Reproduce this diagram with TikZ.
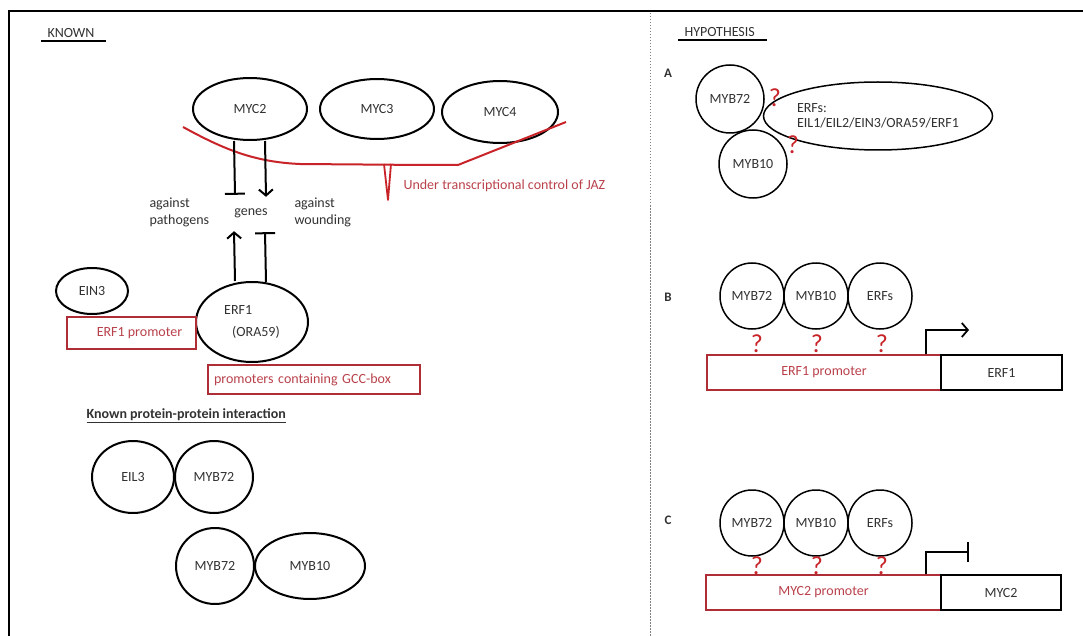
\documentclass[tikz,border=0pt]{standalone}
\usepackage{fontspec}
\setmainfont{Carlito}
\usetikzlibrary{shapes.geometric,arrows.meta,calc}
\definecolor{txt}{RGB}{50,50,50}
\definecolor{redl}{RGB}{200,35,40}
\definecolor{redb}{RGB}{175,45,55}
\definecolor{redt}{RGB}{185,65,75}
\tikzset{
  prot/.style={ellipse, draw=black, line width=2pt, inner sep=0pt},
  hprot/.style={ellipse, draw=black, line width=1.5pt, inner sep=0pt, minimum width=64pt, minimum height=66pt},
  redbox/.style={rectangle, draw=redb, line width=1.8pt, text=redt, inner sep=0pt},
  blkbox/.style={rectangle, draw=black, line width=1.8pt, inner sep=0pt},
  qm/.style={text=redl, font=\fontsize{26}{26}\selectfont},
  arr/.style={line width=2pt, -{Straight Barb[length=6pt,width=14pt,line width=2pt]}},
  tbar/.style={line width=2pt, -{Bar[width=20pt,line width=2pt]}},
  lbl/.style={font=\fontsize{13}{15}\selectfont\bfseries, text=txt}
}
\begin{document}
\begin{tikzpicture}[x=1pt, y=-1pt, font=\fontsize{14}{17}\selectfont, text=txt]
\useasboundingbox (0,0) rectangle (1083,636);
% frame and divider
\draw[line width=2pt] (9,636) -- (9,11) -- (1083,11);
\draw[line width=1pt, gray, dash pattern=on 1.5pt off 1.5pt] (650,13) -- (650,636);

% ---------- KNOWN ----------
\node[anchor=west] (known) at (44,33) {KNOWN};
\draw[line width=1.5pt] (41,41) -- (106,41);

\node[prot, minimum width=114pt, minimum height=62pt] (myc2) at (250,109) {MYC2};
\node[prot, minimum width=114pt, minimum height=60pt] (myc3) at (377,109) {MYC3};
\node[prot, minimum width=116pt, minimum height=62pt] (myc4) at (500,112) {MYC4};

% JAZ red line
\draw[redl, line width=2pt, line join=round] (183,127) .. controls (225,150) and (255,162) .. (300,164)
  -- (425,165) -- (458,165) -- (566,122);
\draw[redl, line width=1.8pt, line join=round] (384,164) -- (388,200) -- (391,164);
\node[anchor=west, text=redt] (jaz) at (400,186) {Under transcriptional control of JAZ};

\node[minimum height=36pt, inner sep=0pt] (genes) at (251,213) {genes};
\node[anchor=west, align=left] (path) at (146,212) {against\\pathogens};
\node[anchor=west, align=left] (wound) at (291,212) {against\\wounding};

\draw[tbar] ([xshift=-16pt]myc2.south) -- ([xshift=-16pt]genes.north);
\draw[arr] ([xshift=15pt]myc2.south) -- ([xshift=15pt,yshift=-2pt]genes.north);

\node[prot, minimum width=72pt, minimum height=46pt] (ein3) at (92,291) {EIN3};
\node[prot, minimum width=112pt, minimum height=80pt, align=left] (erf1) at (252,322) {ERF1\\[5pt]\hspace*{8pt}(ORA59)};
\node[redbox, minimum width=129pt, minimum height=32pt] (erfprom) at (131.5,333) {\hspace*{16pt}ERF1 promoter};
\node[redbox, minimum width=212pt, minimum height=29pt, text width=200pt, align=left] (gcc) at (314,379.5) {promoters containing GCC-box};

\draw[arr] ([xshift=-17pt]erf1.north) -- ([xshift=-17pt]genes.south);
\draw[tbar] ([xshift=14pt,yshift=-1pt]erf1.north) -- ([xshift=14pt,yshift=-1pt]genes.south);

\node[anchor=west, font=\fontsize{14}{17}\selectfont\bfseries] (kppi) at (83,416) {\underline{Known protein-protein interaction}};

\node[prot, minimum width=82pt, minimum height=72pt] (eil3) at (133,477) {EIL3};
\node[prot, minimum width=78pt, minimum height=72pt] (myb72a) at (214,477) {MYB72};
\node[prot, minimum width=78pt, minimum height=76pt] (myb72b) at (215,566) {MYB72};
\node[prot, minimum width=110pt, minimum height=66pt] (myb10a) at (310,566) {MYB10};

% ---------- HYPOTHESIS ----------
\node[anchor=west] (hyp) at (681,32) {HYPOTHESIS};
\draw[line width=1.5pt] (678,40) -- (767,40);

% A
\node[lbl] (la) at (668,73) {A};
\node[hprot, minimum width=68pt, minimum height=68pt] (hmyb72) at (730,99) {MYB72};
\node[hprot, minimum width=68pt, minimum height=68pt] (hmyb10) at (753,164) {MYB10};
\node[hprot, minimum width=202pt, minimum height=68pt, align=left, font=\fontsize{14}{15.5}\selectfont] (herfs) at (878,116) {ERFs:\\EIL1/EIL2/EIN3/ORA59/ERF1};
\node[qm] (qa1) at (775,98) {?};
\node[qm] (qa2) at (793,145) {?};

% B
\node[lbl] (lb) at (668,297) {B};
\node[hprot] (bmyb72) at (752,296) {MYB72};
\node[hprot] (bmyb10) at (816,296) {MYB10};
\node[hprot] (berfs) at (880,296) {ERFs};
\node[qm] (qb1) at (757,344) {?};
\node[qm] (qb2) at (817,344) {?};
\node[qm] (qb3) at (882,344) {?};
\node[redbox, minimum width=234pt, minimum height=35pt] (promB) at (824,372.5) {ERF1 promoter};
\node[blkbox, minimum width=121pt, minimum height=35pt] (geneB) at (1001.5,372.5) {ERF1};
\coordinate (tssB) at (969,330);
\draw[line width=1.8pt, -{Straight Barb[length=6pt,width=14pt,line width=1.8pt]}] ([xshift=102pt]promB.north) |- (tssB);

% C
\node[lbl] (lc) at (668,520) {C};
\node[hprot] (cmyb72) at (752,523) {MYB72};
\node[hprot] (cmyb10) at (816,523) {MYB10};
\node[hprot] (cerfs) at (880,523) {ERFs};
\node[qm] (qc1) at (757,566) {?};
\node[qm] (qc2) at (817,566) {?};
\node[qm] (qc3) at (882,566) {?};
\node[redbox, minimum width=235pt, minimum height=35pt] (promC) at (823.5,592.5) {MYC2 promoter};
\node[blkbox, minimum width=120pt, minimum height=35pt] (geneC) at (1001,592.5) {MYC2};
\coordinate (tssC) at (969,552);
\draw[line width=1.8pt, -{Bar[width=20pt,line width=1.8pt]}] ([xshift=102.5pt]promC.north) |- (tssC);
\end{tikzpicture}
\end{document}
